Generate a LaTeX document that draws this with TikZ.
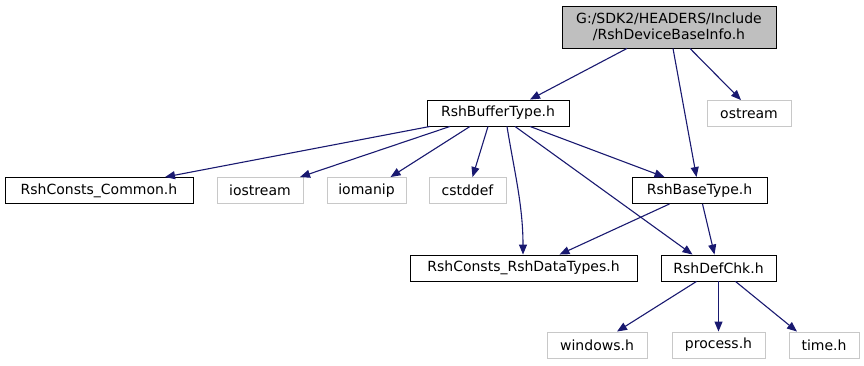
\documentclass[tikz,border=0pt]{standalone}
\usepackage{fontspec}
\setmainfont{DejaVu Sans}
\usetikzlibrary{arrows.meta}
\definecolor{edgeblue}{HTML}{191970}
\definecolor{boxgray}{HTML}{BFBFBF}
\definecolor{extgray}{HTML}{C8C8C8}
\begin{document}
\begin{tikzpicture}[x=1pt,y=-1pt,
  file/.style={draw=black,line width=0.9pt,fill=white,inner sep=0pt,
    minimum height=26pt,font=\fontsize{14}{15}\selectfont,text=black},
  ext/.style={file,draw=extgray},
  root/.style={file,fill=boxgray,minimum height=42pt,align=center,
    font=\fontsize{14}{16.5}\selectfont},
  dep/.style={draw=edgeblue,line width=1.1pt,
    -{Triangle[length=10pt,width=8pt,fill=edgeblue]}}]
\useasboundingbox (0,0) rectangle (864,365);
% header nodes
\node[root,minimum width=214pt] (top) at (669,27) {G:/SDK2/HEADERS/Include\\/RshDeviceBaseInfo.h};
\node[ext,minimum width=84pt] (ostream) at (749,113.5) {ostream};
\node[file,minimum width=142pt] (buf) at (498,113) {RshBufferType.h};
\node[file,minimum width=188pt] (common) at (99,190.5) {RshConsts\_Common.h};
\node[ext,minimum width=86pt] (iostream) at (260,190.5) {iostream};
\node[ext,minimum width=79pt] (iomanip) at (366.5,190.5) {iomanip};
\node[ext,minimum width=77pt] (cstddef) at (467.5,190.5) {cstddef};
\node[file,minimum width=135pt] (base) at (699.5,190.5) {RshBaseType.h};
\node[file,minimum width=227pt] (data) at (523.5,268) {RshConsts\_RshDataTypes.h};
\node[file,minimum width=115pt] (defchk) at (718.5,268) {RshDefChk.h};
\node[ext,minimum width=100pt] (windows) at (597,345) {windows.h};
\node[ext,minimum width=93pt] (process) at (718.5,345) {process.h};
\node[ext,minimum width=70pt] (time) at (824,345) {time.h};
% include edges
\draw[dep] ([xshift=-42pt]top.south) -- ([xshift=32pt]buf.north);
\draw[dep] ([xshift=4pt]top.south) -- ([xshift=-3pt]base.north);
\draw[dep] ([xshift=21pt]top.south) -- ([xshift=-8pt]ostream.north);
\draw[dep] ([xshift=-68pt]buf.south) -- ([xshift=66pt]common.north);
\draw[dep] ([xshift=-48pt]buf.south) -- ([xshift=40pt]iostream.north);
\draw[dep] ([xshift=-28pt]buf.south) -- ([xshift=24pt]iomanip.north);
\draw[dep] ([xshift=-10pt]buf.south) -- ([xshift=5pt]cstddef.north);
\draw[dep] ([xshift=9pt]buf.south) .. controls (514,170) and (523,205) .. ([xshift=-0.5pt]data.north);
\draw[dep] ([xshift=17pt]buf.south) -- ([xshift=-26pt]defchk.north);
\draw[dep] ([xshift=32pt]buf.south) -- ([xshift=-35pt]base.north);
\draw[dep] ([xshift=-30pt]base.south) -- ([xshift=36pt]data.north);
\draw[dep] ([xshift=3pt]base.south) -- ([xshift=-4pt]defchk.north);
\draw[dep] ([xshift=-22pt]defchk.south) -- ([xshift=20pt]windows.north);
\draw[dep] (defchk.south) -- (process.north);
\draw[dep] ([xshift=17pt]defchk.south) -- ([xshift=-27pt]time.north);
\end{tikzpicture}
\end{document}
